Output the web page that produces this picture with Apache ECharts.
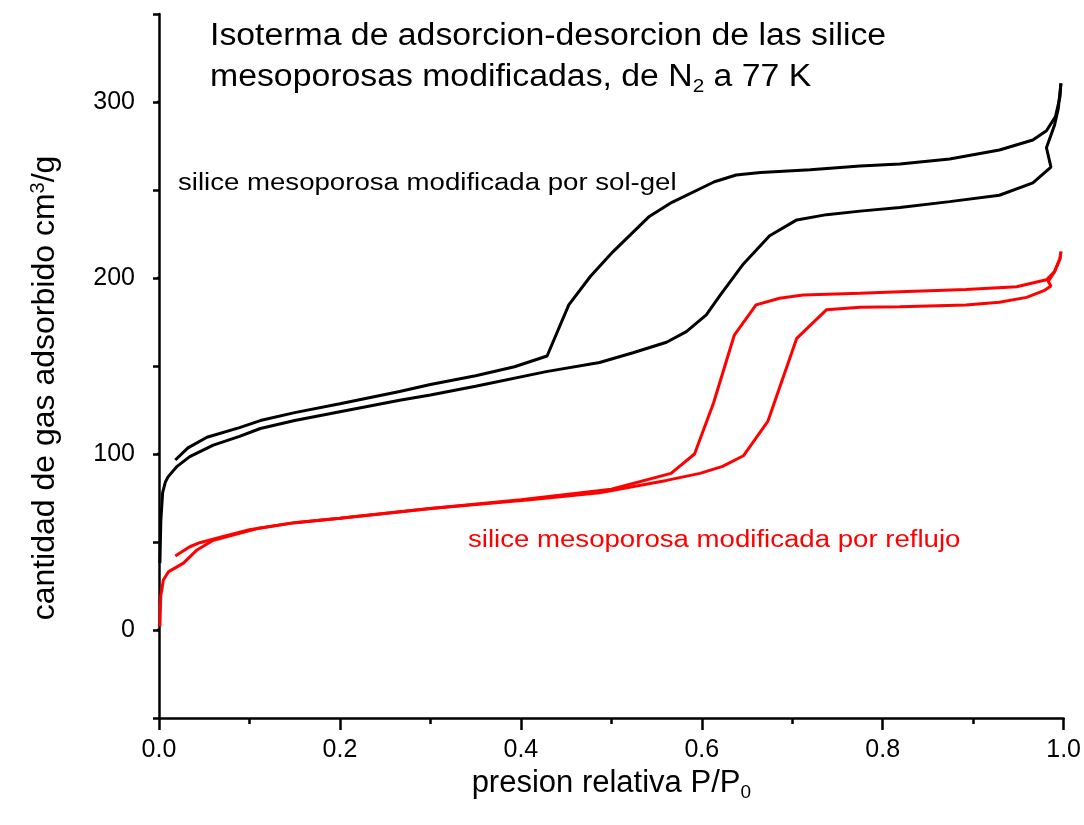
<!DOCTYPE html>
<html><head><meta charset="utf-8">
<script src="https://cdn.jsdelivr.net/npm/echarts@6/dist/echarts.min.js"></script>
<style>html,body{margin:0;padding:0;background:#fff}#c{width:1084px;height:825px}</style>
</head><body><div id="c"></div>
<script>
// ---- data (P/P0, cm3/g) ----
const blackAdsorption = [[0.001,38],[0.002,62],[0.004,78],[0.007,84],[0.01,87],[0.02,93],[0.034,98.5],[0.06,105],[0.089,110],[0.112,114.5],[0.15,119],[0.2,124],[0.266,130.5],[0.3,133.5],[0.35,138.5],[0.428,146.8],[0.487,152],[0.524,157.5],[0.561,163.5],[0.583,169.5],[0.605,179],[0.62,190],[0.646,208],[0.675,224],[0.705,233],[0.738,236],[0.775,238],[0.819,240],[0.874,243.4],[0.929,247],[0.966,254],[0.986,263],[0.981,274],[0.99,287],[0.994,296],[0.997,310.6]];
const blackDesorption = [[0.997,310.6],[0.996,303],[0.991,291.7],[0.981,283.7],[0.966,278.4],[0.929,272.7],[0.874,267.6],[0.819,264.8],[0.775,263.6],[0.72,261.5],[0.665,260],[0.638,258.5],[0.614,254.7],[0.567,243],[0.542,235],[0.502,215],[0.477,201],[0.453,184.7],[0.429,155.7],[0.393,149.6],[0.35,144.5],[0.3,139.5],[0.266,135.5],[0.2,128.5],[0.15,123.5],[0.112,119],[0.089,115],[0.053,109.5],[0.032,103.5],[0.018,96.6]];
const redAdsorption = [[0.001,2],[0.0019,19],[0.0048,28.4],[0.0103,33],[0.027,38],[0.042,45.5],[0.06,51],[0.089,55],[0.112,58],[0.15,61],[0.2,63.5],[0.3,69],[0.41,74],[0.487,78],[0.561,85],[0.598,89],[0.623,93],[0.646,99],[0.673,118.5],[0.705,165.7],[0.738,182],[0.775,183.4],[0.819,183.7],[0.892,184.7],[0.929,186.2],[0.959,189],[0.979,193],[0.986,195.4],[0.983,198],[0.99,203.6],[0.996,211],[0.997,215]];
const redDesorption = [[0.997,215],[0.996,211],[0.99,203.6],[0.981,199],[0.948,195],[0.892,193.5],[0.819,192.2],[0.775,191.3],[0.712,190.3],[0.686,188.5],[0.66,184.7],[0.636,167.6],[0.613,129],[0.592,100],[0.566,89],[0.5,80],[0.4,74],[0.3,69],[0.2,63.5],[0.15,61],[0.1,57],[0.07,53],[0.045,49.6],[0.034,47.3],[0.018,42]];
const yLabelValues = [0,100,200,300];
const titleLine1 = 'Isoterma de adsorcion-desorcion de las silice';
const titleLine2 = '{a|mesoporosas modificadas, de N}{s|2}{a| a 77 K}';
const labelSolGel = 'silice mesoporosa modificada por sol-gel';
const labelReflujo = 'silice mesoporosa modificada por reflujo';

const FONT = '"Liberation Sans", Arial, sans-serif';
const MAJOR_TICK = 12 / 905; // major tick length (12 px) expressed in x units of the plot
const chart = echarts.init(document.getElementById('c'), null, {renderer:'canvas'});
const axisCol = {color:'#000', width:2.5};

const curveSeries = [
  {data:blackAdsorption, color:'#000'},
  {data:blackDesorption, color:'#000'},
  {data:redAdsorption, color:'#ff0000'},
  {data:redDesorption, color:'#ff0000'}
].map(s => ({type:'line', data:s.data, showSymbol:false, symbol:'none', silent:true, lineStyle:{color:s.color, width:3}, clip:false}));

// long (major) y ticks at the labelled values, drawn through the axis scales
const majorTickSeries = yLabelValues.map(v => ({
  type:'line', data:[[-MAJOR_TICK, v],[0, v]], showSymbol:false, symbol:'none', silent:true, clip:false, z:20,
  lineStyle:{color:'#000', width:2.5, cap:'butt'}
}));

const option = {
  animation:false,
  backgroundColor:'#fff',
  grid:{left:159, right:20, top:14, bottom:107},
  xAxis:{
    type:'value', min:0, max:1, interval:0.2,
    axisLine:{onZero:false, lineStyle:axisCol},
    axisTick:{length:12, lineStyle:axisCol},
    minorTick:{show:true, splitNumber:2, length:6, lineStyle:axisCol},
    splitLine:{show:false}, minorSplitLine:{show:false},
    axisLabel:{fontSize:25, color:'#000', fontFamily:FONT, margin:20, formatter:v=>v.toFixed(1)},
    name:'{a|presion relativa P/P}{s|0}', nameLocation:'middle', nameGap:42,
    nameTextStyle:{rich:{a:{fontSize:31, fontFamily:FONT, color:'#000'}, s:{fontSize:19, fontFamily:FONT, color:'#000', padding:[18,0,0,0]}}}
  },
  yAxis:{
    type:'value', min:-50, max:350, interval:50,
    axisLine:{show:true, onZero:false, lineStyle:axisCol},
    axisTick:{show:true, length:6, lineStyle:axisCol},
    splitLine:{show:false},
    axisLabel:{fontSize:25, color:'#000', fontFamily:FONT, margin:24, customValues:yLabelValues},
    name:'{a|cantidad de gas adsorbido cm}{s|3}{a|/g}', nameLocation:'middle', nameGap:97, nameRotate:90,
    nameTextStyle:{padding:[0,44,0,0], rich:{a:{fontSize:32, fontFamily:FONT, color:'#000'}, s:{fontSize:20, fontFamily:FONT, color:'#000', padding:[0,0,14,0]}}}
  },
  series: curveSeries.concat(majorTickSeries),
  graphic:[
    {type:'text', x:210, y:36, scaleX:1.09, style:{text:titleLine1, fontSize:31, fontFamily:FONT, fill:'#000', align:'left', verticalAlign:'middle'}},
    {type:'text', x:210, y:77.5, scaleX:1.09, style:{text:titleLine2, fill:'#000', align:'left', verticalAlign:'middle',
      rich:{a:{fontSize:31, fontFamily:FONT, fill:'#000'}, s:{fontSize:19, fontFamily:FONT, fill:'#000', padding:[18,0,0,0]}}}},
    {type:'text', x:178, y:183.5, scaleX:1.2, style:{text:labelSolGel, fontSize:23, fontFamily:FONT, fill:'#000', align:'left', verticalAlign:'middle'}},
    {type:'text', x:468, y:541, scaleX:1.2, style:{text:labelReflujo, fontSize:23, fontFamily:FONT, fill:'#ff0000', align:'left', verticalAlign:'middle'}}
  ]
};
chart.setOption(option);
</script>
</body></html>
